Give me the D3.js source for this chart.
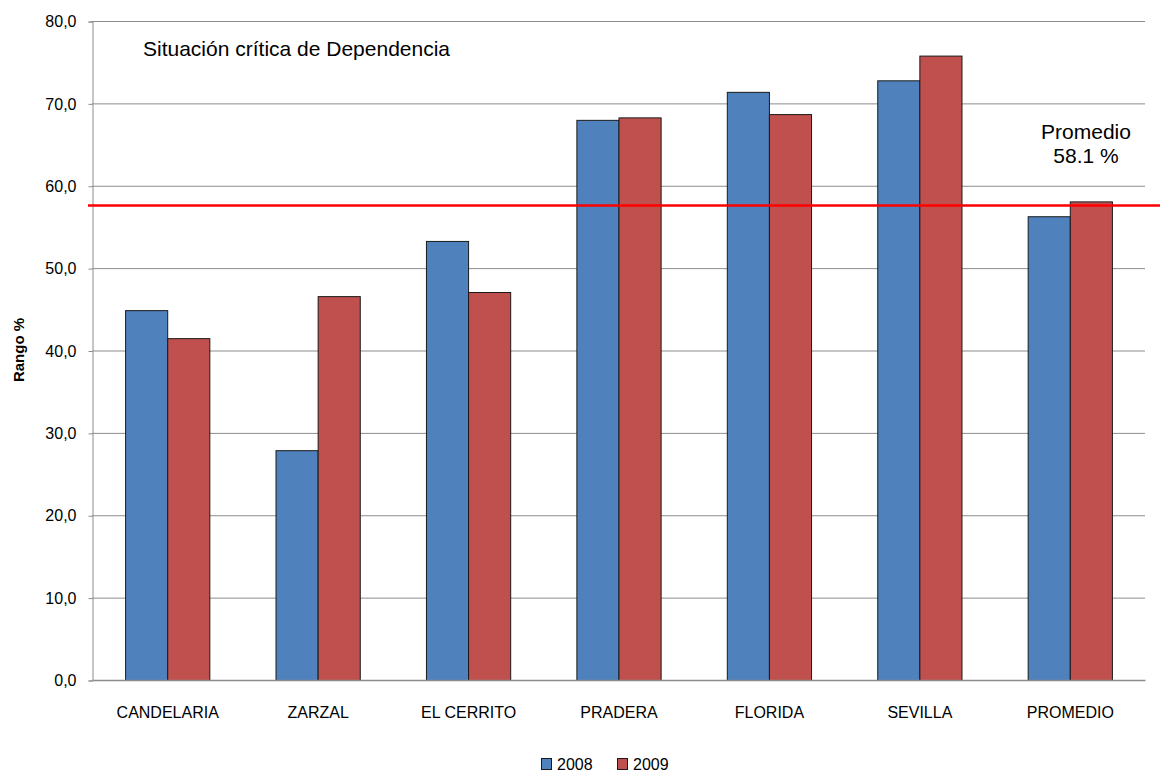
<!DOCTYPE html>
<html><head><meta charset="utf-8">
<script src="https://cdn.jsdelivr.net/npm/d3@7"></script>
<style>body{margin:0;background:#fff}svg{display:block}</style>
</head><body>
<svg id="c" width="1160" height="773"></svg>
<script>
const categories = ["CANDELARIA","ZARZAL","EL CERRITO","PRADERA","FLORIDA","SEVILLA","PROMEDIO"];
const seriesNames = ["2008","2009"];
const values2008 = [44.9, 27.9, 53.3, 68.0, 71.4, 72.8, 56.3];
const values2009 = [41.5, 46.6, 47.1, 68.3, 68.7, 75.8, 58.1];
const yTicks = [0,10,20,30,40,50,60,70,80];
const refLineValue = 57.6;
const colors = ["#4F81BD","#C0504D"];

const svg = d3.select("#c");
const m = {left:92, right:1145, top:21, bottom:680};
const x = d3.scaleBand().domain(categories).range([m.left, m.right]).paddingInner(0.44).paddingOuter(0.22);
const xs = d3.scaleBand().domain(seriesNames).range([0, x.bandwidth()]);
const y = d3.scaleLinear().domain([0,80]).range([m.bottom, m.top]);
const font = "Liberation Sans, Arial, sans-serif";

// gridlines
svg.append("g").selectAll("line").data(yTicks.filter(d=>d>0)).join("line")
  .attr("x1", m.left).attr("x2", m.right)
  .attr("y1", d=>y(d)+0.5).attr("y2", d=>y(d)+0.5)
  .attr("stroke", "#8c8c8c").attr("stroke-width", 1);

// y axis
const yAxis = d3.axisLeft(y).tickValues(yTicks).tickSize(4).tickPadding(12)
  .tickFormat(d => d3.format(".1f")(d).replace(".", ","));
const ya = svg.append("g").attr("transform", `translate(${m.left+0.5},0.5)`).call(yAxis);
ya.select(".domain").attr("stroke", "#8c8c8c");
ya.selectAll(".tick line").attr("stroke", "#8c8c8c");
ya.selectAll("text").attr("font-family", font).attr("font-size", 16).attr("fill", "#000");

// bars
const data = categories.map((c,i)=>({c, vals:[values2008[i], values2009[i]]}));
const g = svg.append("g");
data.forEach(d=>{
  g.selectAll(null).data(d.vals.map((v,j)=>({v, s:seriesNames[j], j}))).join("rect")
    .attr("x", e => x(d.c) + xs(e.s) + 0.5)
    .attr("y", e => y(e.v) + 0.5)
    .attr("width", xs.bandwidth())
    .attr("height", e => y(0) - y(e.v))
    .attr("fill", e => colors[e.j])
    .attr("stroke", "#1a1a1a").attr("stroke-width", 1);
});

// x axis
const xAxis = d3.axisBottom(x).tickSize(0).tickPadding(26);
const xa = svg.append("g").attr("transform", `translate(0.5,${m.bottom+0.5})`).call(xAxis);
xa.select(".domain").attr("stroke", "#8c8c8c").attr("stroke-width", 1.5).attr("d", `M${m.left},0H${m.right}`);
xa.selectAll("text").attr("font-family", font).attr("font-size", 16).attr("fill", "#000");

// reference line
svg.append("line").attr("x1", m.left-4).attr("x2", 1160)
  .attr("y1", y(refLineValue)).attr("y2", y(refLineValue))
  .attr("stroke", "#ff0000").attr("stroke-width", 2.5);

// title
svg.append("text").attr("x", 143).attr("y", 56).attr("font-family", font).attr("font-size", 21)
  .attr("fill", "#000").text("Situación crítica de Dependencia");

// Promedio annotation
svg.append("text").attr("x", 1086).attr("y", 139).attr("text-anchor","middle").attr("font-family", font)
  .attr("font-size", 21).attr("fill","#000").text("Promedio");
svg.append("text").attr("x", 1086).attr("y", 163).attr("text-anchor","middle").attr("font-family", font)
  .attr("font-size", 21).attr("fill","#000").text("58.1 %");

// y label
svg.append("text").attr("transform", "translate(24,350) rotate(-90)").attr("text-anchor","middle")
  .attr("font-family", font).attr("font-size", 15).attr("font-weight","bold").attr("fill","#000").text("Rango %");

// legend
const lg = svg.append("g").attr("transform","translate(541,758)");
seriesNames.forEach((s,i)=>{
  const gx = i*76;
  lg.append("rect").attr("x", gx+0.5).attr("y", 0.5).attr("width", 10).attr("height", 11)
    .attr("fill", colors[i]).attr("stroke","#1a1a1a");
  lg.append("text").attr("x", gx+16).attr("y", 12).attr("font-family", font).attr("font-size", 16)
    .attr("fill","#000").text(s);
});
</script>
</body></html>
